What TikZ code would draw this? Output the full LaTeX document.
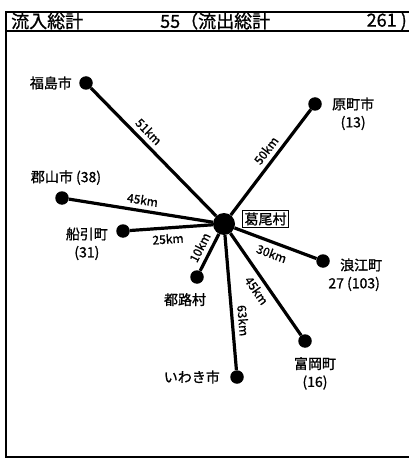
\documentclass[tikz,border=0pt]{standalone}
\usepackage{fontspec}
\setmainfont{Noto Sans CJK JP}[FakeBold=1]
\usepackage{tikz}
\usetikzlibrary{positioning}

\begin{document}
\begin{tikzpicture}[x=1pt, y=-1pt,
    town/.style={circle, fill=black, inner sep=0pt, minimum size=13.5pt},
    hub/.style={circle, fill=black, inner sep=0pt, minimum size=22pt},
    road/.style={line width=3.2pt},
    dist/.style={font=\fontsize{12}{12}\selectfont, sloped, inner sep=4.5pt},
    place/.style={font=\fontsize{14}{16}\selectfont, inner sep=0pt},
    headtext/.style={font=\fontsize{18}{20}\selectfont, inner sep=0pt}]
    \useasboundingbox (0,0) rectangle (408,462);

    % Frame and header
    \draw[line width=1.4pt] (410,12) -- (6,12) -- (6,457) -- (410,457);
    \draw[line width=1.2pt] (6,31) -- (410,31);
    \node[headtext, anchor=west] (inflow) at (11,21) {流入総計};
    \node[headtext, anchor=west] (outflow) at (160,21) {55（流出総計};
    \node[headtext, anchor=east] (outtotal) at (407,21) {261 )};

    % Towns
    \node[hub] (katsurao) at (224,224) {};
    \node[town] (fukushima) at (86,83) {};
    \node[town] (haramachi) at (315,104) {};
    \node[town] (koriyama) at (62,198) {};
    \node[town] (funehiki) at (123,231) {};
    \node[town] (miyakoji) at (197,277) {};
    \node[town] (iwaki) at (237,377) {};
    \node[town] (tomioka) at (305,341) {};
    \node[town] (namie) at (323,261) {};

    % Roads with distances
    \draw[road] (katsurao) -- (fukushima) node[dist, pos=0.6, above] {51km};
    \draw[road] (katsurao) -- (haramachi) node[dist, pos=0.55, above] {50km};
    \draw[road] (katsurao) -- (koriyama) node[dist, pos=0.5, above] {45km};
    \draw[road] (katsurao) -- (funehiki) node[dist, pos=0.55, below] {25km};
    \draw[road] (katsurao) -- (miyakoji) node[dist, pos=0.5, above] {10km};
    \draw[road] (katsurao) -- (namie) node[dist, pos=0.5, below] {30km};
    \draw[road] (katsurao) -- (tomioka) node[dist, pos=0.5, below] {45km};
    \draw[road] (katsurao) -- (iwaki) node[dist, pos=0.64, above] {63km};

    % Labels
    \node[place, draw, line width=0.8pt, inner sep=2pt, right=7pt of katsurao, yshift=5pt] (katsuraoL) {葛尾村};
    \node[place, left=7pt of fukushima] (fukushimaL) {福島市};
    \node[place, right=10pt of haramachi] (haramachiL) {原町市};
    \node[place, below=5pt of haramachiL] (haramachiN) {(13)};
    \node[place, above=6pt of koriyama, xshift=4pt] (koriyamaL) {郡山市 (38)};
    \node[place, left=8pt of funehiki, yshift=-3pt] (funehikiL) {船引町};
    \node[place, below=5pt of funehikiL] (funehikiN) {(31)};
    \node[place, below=9pt of miyakoji, xshift=-12pt] (miyakojiL) {都路村};
    \node[place, left=10pt of iwaki] (iwakiL) {いわき市};
    \node[place, below=9pt of tomioka, xshift=10pt] (tomiokaL) {富岡町};
    \node[place, below=5pt of tomiokaL] (tomiokaN) {(16)};
    \node[place, right=10pt of namie, yshift=-4pt] (namieL) {浪江町};
    \node[place, below=5pt of namieL, xshift=-7pt] (namieN) {27 (103)};
\end{tikzpicture}
\end{document}
